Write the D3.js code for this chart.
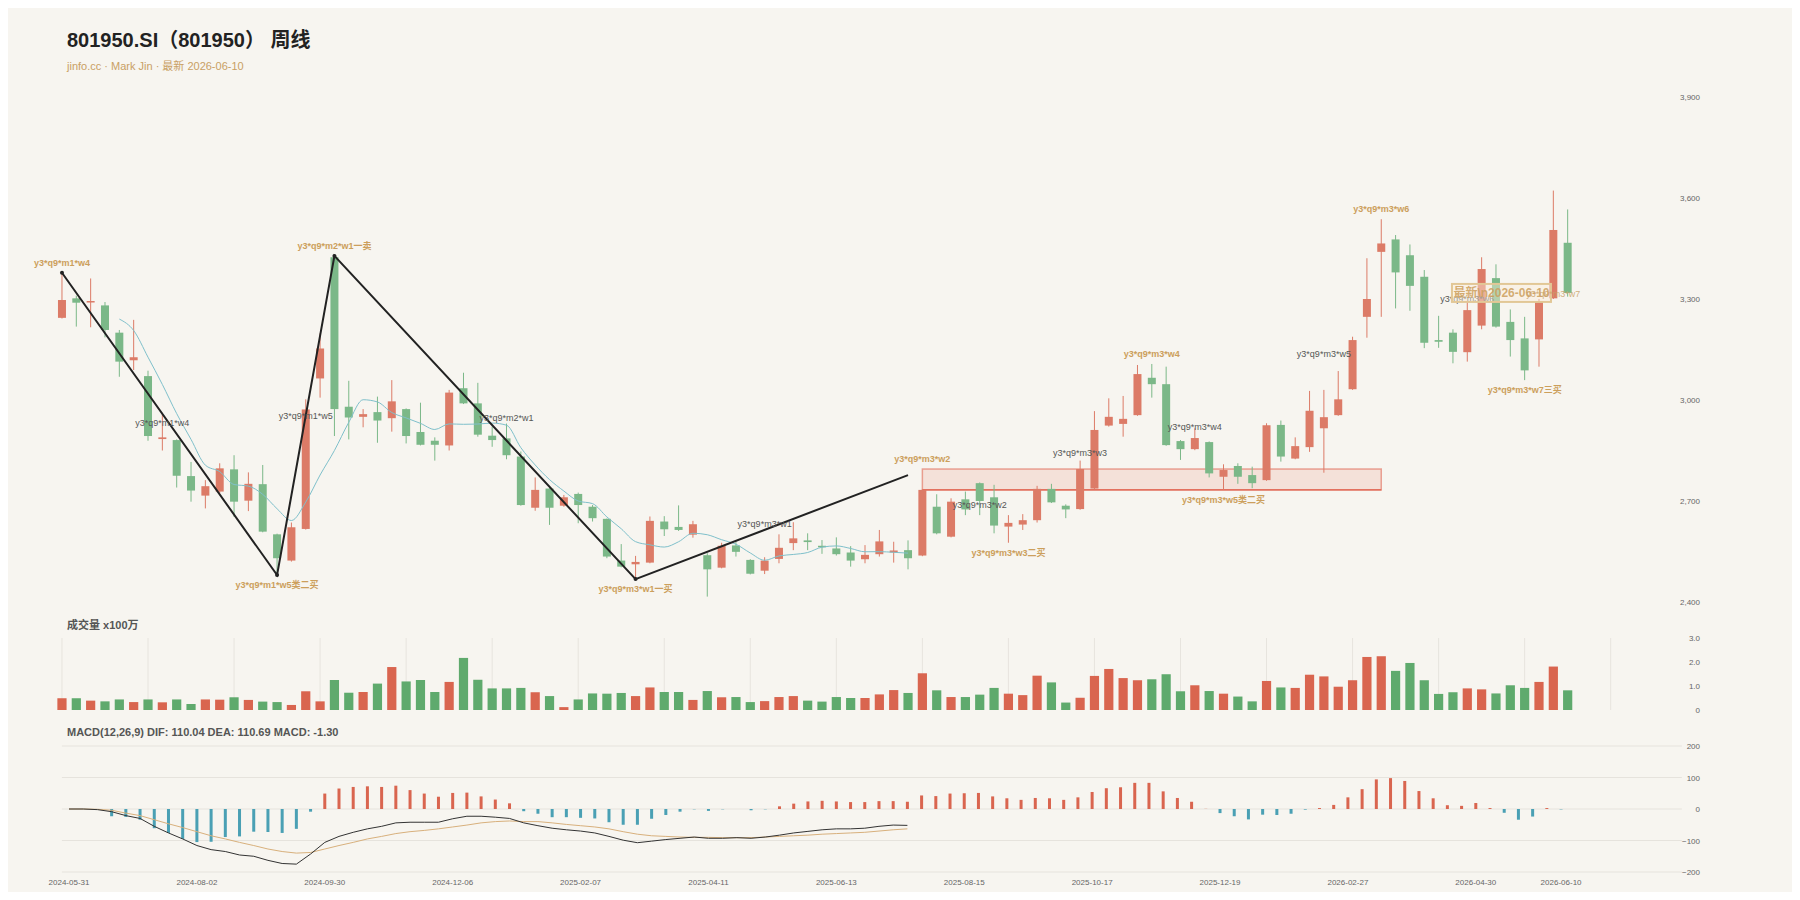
<!DOCTYPE html>
<html><head><meta charset="utf-8">
<script src="https://cdn.jsdelivr.net/npm/d3@7"></script>
<style>
html,body{margin:0;padding:0;background:#fff;}
svg{display:block;font-family:"Liberation Sans",Arial,"Noto Sans CJK SC",sans-serif;}
</style></head><body>
<svg id="c" width="1800" height="900"></svg>
<script>
// ---------- data ----------
const openP  = [3244,3302,3290,3281,3200,3118,3071,2884,2881,2774,2716,2728,2794,2701,2750,2601,2523,2617,3064,3424,
                2980,2950,2964,2946,2973,2905,2879,2865,3035,2990,2894,2886,2832,2680,2737,2686,2721,2683,2647,2523,
                2512,2517,2639,2623,2600,2539,2502,2568,2525,2493,2528,2575,2583,2567,2559,2547,2527,2542,2547,2554,
                2538,2683,2594,2705,2753,2711,2624,2630,2643,2736,2686,2676,2737,2924,2929,2955,3066,3047,2878,2854,
                2875,2772,2804,2777,2762,2926,2826,2860,2916,2955,3032,3247,3440,3477,3430,3366,3178,3200,3142,3221,
                3362,3232,3183,3180,3302,3467];
const highP  = [3378,3310,3361,3291,3208,3238,3087,2962,2883,2816,2762,2812,2836,2785,2807,2603,2636,3002,3198,3428,
                3057,2973,3010,3059,2975,2992,2889,3030,3081,3051,2921,2930,2847,2770,2740,2718,2725,2688,2648,2572,
                2537,2654,2655,2687,2641,2545,2576,2580,2527,2533,2601,2637,2604,2584,2592,2566,2569,2614,2579,2583,
                2735,2720,2708,2728,2755,2748,2658,2661,2745,2751,2690,2820,2967,3005,3012,3104,3107,3099,2881,2916,
                2877,2809,2812,2802,2931,2939,2889,3027,3030,3086,3188,3421,3537,3490,3462,3386,3250,3210,3292,3424,
                3403,3269,3247,3300,3622,3566];
const lowP   = [3242,3218,3216,3186,3069,3089,2879,2850,2740,2698,2678,2723,2653,2670,2607,2480,2520,2615,3007,2893,
                2883,2919,2873,2906,2871,2865,2820,2850,2988,2891,2861,2824,2686,2671,2629,2683,2634,2639,2530,2503,
                2468,2515,2596,2611,2591,2416,2500,2535,2482,2483,2515,2554,2554,2543,2538,2505,2515,2535,2517,2497,
                2536,2601,2592,2658,2658,2604,2576,2614,2636,2694,2649,2674,2735,2921,2891,2953,3007,2864,2822,2851,
                2770,2733,2751,2738,2760,2817,2824,2846,2784,2953,3030,3185,3247,3272,3265,3154,3155,3109,3114,3210,
                3215,3129,3059,3099,3300,3307];
const closeP = [3297,3289,3294,3208,3114,3127,2893,2889,2775,2731,2744,2797,2698,2751,2609,2530,2622,2972,3153,2973,
                2948,2958,2939,2996,2893,2867,2867,3022,2990,2897,2881,2836,2688,2733,2680,2711,2688,2649,2535,2505,
                2519,2641,2616,2614,2631,2497,2567,2549,2484,2523,2561,2589,2578,2563,2542,2523,2540,2580,2553,2530,
                2733,2604,2698,2675,2700,2627,2635,2643,2736,2696,2675,2795,2911,2950,2944,3077,3047,2866,2854,2887,
                2782,2792,2772,2753,2925,2832,2863,2968,2949,3002,3178,3300,3465,3379,3339,3170,3173,3143,3267,3389,
                3218,3178,3088,3292,3505,3318];
const volume = [0.49,0.49,0.39,0.36,0.44,0.33,0.44,0.32,0.44,0.25,0.44,0.43,0.53,0.42,0.35,0.33,0.21,0.78,0.36,1.25,
                0.72,0.75,1.10,1.79,1.19,1.25,0.75,1.17,2.17,1.26,0.90,0.90,0.92,0.74,0.58,0.12,0.44,0.69,0.68,0.71,
                0.58,0.94,0.75,0.75,0.42,0.79,0.53,0.54,0.33,0.37,0.54,0.58,0.39,0.35,0.54,0.50,0.50,0.65,0.83,0.71,
                1.53,0.82,0.54,0.54,0.64,0.92,0.68,0.62,1.43,1.15,0.31,0.51,1.42,1.71,1.33,1.24,1.28,1.49,0.78,1.03,
                0.79,0.68,0.56,0.36,1.21,0.94,0.92,1.47,1.40,0.97,1.24,2.21,2.24,1.63,1.96,1.24,0.67,0.74,0.90,0.86,
                0.69,1.03,0.92,1.17,1.81,0.82];
const macdHist = [0,0,-1,-23,-25,-34,-61,-76,-95,-105,-104,-89,-87,-72,-73,-76,-63,-8.5,49,65,
                  70,72,70,74,60,49,39,51,52,40,30,18,-7,-15,-26,-26,-28,-30,-42,-50,
                  -50,-31,-19,-8.5,-1,-6,-1,0,-4,-1,8.5,17,24,26,24,22,22,25,25,23,
                  43,41,49,50,51,40,34,29,35,34,29,37,54,66,69,83,83,56,35,23,
                  0.5,-13,-23,-33,-18,-19,-15,-2,3,13,37,63,94,98,89,57,34,12,10,19,
                  3,-12,-34,-24,3,-1.3];
const difLine = [0,0,-2,-8.5,-21,-30,-55,-76,-95,-116,-129,-135,-146,-150,-163,-173,-175,-143,-106,-87,
                 -74,-63,-55,-44,-42,-42,-42,-31,-23,-23,-26,-30,-44,-53,-61,-66,-70,-76,-87,-99,
                 -107,-102,-97,-93,-89,-93,-93,-91,-93,-89,-83,-76,-71,-66,-63,-63,-61,-55,-51,-52];
const deaLine = [0,0,-1,-4,-13,-21,-34,-47,-59,-72,-85,-95,-106,-116,-127,-135,-140,-138,-127,-116,
                 -106,-95,-87,-78,-72,-68,-63,-57,-51,-44,-40,-38,-40,-40,-44,-49,-53,-57,-63,-72,
                 -80,-85,-87,-89,-90,-90,-91,-91,-91,-89,-87,-85,-83,-80,-78,-76,-74,-70,-66,-63];
const xTickIdx = [0,9,18,27,36,45,54,63,72,81,90,99,105];
const xTickLabels = ["2024-05-31","2024-08-02","2024-09-30","2024-12-06","2025-02-07","2025-04-11","2025-06-13",
                     "2025-08-15","2025-10-17","2025-12-19","2026-02-27","2026-04-30","2026-06-10"];
const priceTicks = [2400,2700,3000,3300,3600,3900];
const volTicks = [0,1,2,3];
const macdTicks = [-200,-100,0,100,200];
// strokes (bi)
const biIdx = [0,15,19,40,59];
const biPrice = [3378,2480,3428,2468,2777];
// zone (zhongshu)
const zoneStart = 60, zoneEnd = 92, zoneTop = 2795, zoneBottom = 2733;
// gold signal labels
const sigText = ["y3*q9*m1*w4","y3*q9*m1*w5类二买","y3*q9*m2*w1一卖","y3*q9*m3*w1一买","y3*q9*m3*w2",
                 "y3*q9*m3*w3二买","y3*q9*m3*w4","y3*q9*m3*w5类二买","y3*q9*m3*w6","y3*q9*m3*w7三买"];
const sigIdx = [0,15,19,40,60,66,76,81,92,102];
const sigPrice = [3378,2480,3428,2468,2795,2576,3107,2733,3537,3059];
const sigSide = [-1,1,-1,1,-1,1,-1,1,-1,1];
// grey stroke labels
const biLabText = ["y3*q9*m1*w4","y3*q9*m1*w5","y3*q9*m2*w1","y3*q9*m3*w1","y3*q9*m3*w2","y3*q9*m3*w3",
                   "y3*q9*m3*w4","y3*q9*m3*w5","y3*q9*m3*w6"];
const biLabIdx = [7,17,31,49,64,71,79,88,98];
const biLabPrice = [2933,2952,2946,2631,2688,2842,2920,3137,3300];
const lastLabText = "y3*q9*m3*w7", lastLabIdx = 104, lastLabPrice = 3316;

// ---------- drawing ----------
const svg = d3.select('#c');
svg.append('rect').attr('x',8).attr('y',8).attr('width',1784).attr('height',884).attr('fill','#f7f5f0');

const N = 114;
const xP = d3.scaleBand().domain(d3.range(N)).range([54.8, 54.8 + N*14.34]);
const cx = i => xP(i) + xP.bandwidth()/2;
const xM = d3.scaleBand().domain(d3.range(N)).range([61.9, 61.9 + N*14.21]);
const cm = i => xM(i) + xM.bandwidth()/2;
const yP = d3.scaleLinear().domain([2400,3900]).range([602,97]);
const yV = d3.scaleLinear().domain([0,3]).range([710,638]);
const yM = d3.scaleLinear().domain([-200,200]).range([872,746]);

const RED='#dc7b67', GREEN='#7bb888', VRED='#d9654f', VGREEN='#5faa6d', GOLD='#cc9f5c';

// titles
svg.append('text').attr('x',67).attr('y',47).attr('font-size',20).attr('font-weight','bold').attr('fill','#222')
  .text('801950.SI（801950） 周线');
svg.append('text').attr('x',67).attr('y',70).attr('font-size',11).attr('fill','#c9a064')
  .text('jinfo.cc · Mark Jin · 最新 2026-06-10');

// price axis
const ga = svg.append('g').attr('transform','translate(1700,0)')
  .call(d3.axisLeft(yP).tickValues(priceTicks).tickSize(0).tickPadding(0).tickFormat(d3.format(',')));
ga.select('.domain').remove();
ga.selectAll('text').attr('font-size',8).attr('fill','#666').attr('font-family','Liberation Sans, Arial, sans-serif');

// zone
svg.append('rect').attr('x',cx(zoneStart)).attr('y',yP(zoneTop))
  .attr('width',cx(zoneEnd)-cx(zoneStart)).attr('height',yP(zoneBottom)-yP(zoneTop))
  .attr('fill','rgba(232,140,115,0.18)').attr('stroke','rgba(222,95,75,0.55)').attr('stroke-width',1.5);
svg.append('line').attr('x1',cx(zoneStart)).attr('x2',cx(zoneEnd)).attr('y1',yP(zoneBottom)).attr('y2',yP(zoneBottom))
  .attr('stroke','#e0614c').attr('stroke-width',1.2);

// candles
const idxs = d3.range(openP.length);
const cg = svg.append('g');
const bw = 8;
idxs.forEach(i=>{
  const up = closeP[i] >= openP[i];
  const col = up ? RED : GREEN;
  cg.append('line').attr('x1',cx(i)).attr('x2',cx(i)).attr('y1',yP(highP[i])).attr('y2',yP(lowP[i]))
    .attr('stroke',col).attr('stroke-width',1);
  const y0 = yP(Math.max(openP[i],closeP[i])), y1 = yP(Math.min(openP[i],closeP[i]));
  cg.append('rect').attr('x',cx(i)-bw/2).attr('y',y0).attr('width',bw).attr('height',Math.max(1.5,y1-y0))
    .attr('fill',col);
});

// MA5 (first 60 weeks shown)
const ma = [];
for (let i=4;i<=59;i++){ ma.push([i, d3.mean(closeP.slice(i-4,i+1))]); }
svg.append('path').attr('d', d3.line().x(d=>cx(d[0])).y(d=>yP(d[1])).curve(d3.curveMonotoneX)(ma))
  .attr('fill','none').attr('stroke','#7fc0cb').attr('stroke-width',1);

// strokes
const biPts = biIdx.map((d,k)=>[d,biPrice[k]]);
svg.append('path').attr('d', d3.line().x(d=>cx(d[0])).y(d=>yP(d[1]))(biPts))
  .attr('fill','none').attr('stroke','#222').attr('stroke-width',2);
svg.selectAll('.bip').data(biPts.slice(0,4)).enter().append('circle')
  .attr('cx',d=>cx(d[0])).attr('cy',d=>yP(d[1])).attr('r',2).attr('fill','#222');

// grey labels
biLabText.forEach((t,k)=>{
  svg.append('text').attr('x',cx(biLabIdx[k])).attr('y',yP(biLabPrice[k])).attr('dy','0.35em')
    .attr('text-anchor','middle').attr('font-size',9).attr('fill','#555').text(t);
});
// signal labels
sigText.forEach((t,k)=>{
  svg.append('text').attr('x',cx(sigIdx[k])).attr('y',yP(sigPrice[k]) + sigSide[k]*10).attr('dy','0.35em')
    .attr('text-anchor','middle').attr('font-size',9).attr('font-weight','bold').attr('fill',GOLD).text(t);
});

// latest box
const lastY = yP(closeP[closeP.length-1]);
const boxR = cx(closeP.length-1) - 16.7, boxW = 99, boxH = 18;
svg.append('rect').attr('x',boxR-boxW).attr('y',lastY-boxH/2).attr('width',boxW).attr('height',boxH)
  .attr('fill','rgba(250,238,218,0.45)').attr('stroke','#e2c796').attr('stroke-width',2);
svg.append('text').attr('x',boxR-boxW/2).attr('y',lastY).attr('dy','0.36em').attr('text-anchor','middle')
  .attr('font-size',12).attr('font-weight','bold').attr('fill',GOLD).attr('fill-opacity',0.85)
  .text('最新\\n2026-06-10');
svg.append('text').attr('x',cx(lastLabIdx)).attr('y',yP(lastLabPrice)).attr('dy','0.35em')
  .attr('text-anchor','middle').attr('font-size',9).attr('fill','#c9a066').attr('fill-opacity',0.85).text(lastLabText);

// ---------- volume ----------
svg.append('text').attr('x',67).attr('y',629).attr('font-size',11).attr('font-weight','bold').attr('fill','#555')
  .text('成交量 x100万');
const vGridIdx = d3.range(0, N, 6).filter(i=>cx(i) < 1660);
svg.selectAll('.vg').data(vGridIdx).enter().append('line')
  .attr('x1',d=>cx(d)).attr('x2',d=>cx(d)).attr('y1',yV(3)).attr('y2',yV(0))
  .attr('stroke','#e7e4de').attr('stroke-width',1);
const vbw = 9.2;
svg.selectAll('.vb').data(idxs).enter().append('rect')
  .attr('x',i=>cx(i)-vbw/2).attr('y',i=>yV(volume[i])).attr('width',vbw).attr('height',i=>yV(0)-yV(volume[i]))
  .attr('fill',i=> closeP[i]>=openP[i] ? VRED : VGREEN);
const gv = svg.append('g').attr('transform','translate(1700,0)')
  .call(d3.axisLeft(yV).tickValues(volTicks).tickSize(0).tickPadding(0).tickFormat(d=> d===0 ? '0' : d3.format('.1f')(d)));
gv.select('.domain').remove();
gv.selectAll('text').attr('font-size',8).attr('fill','#666').attr('font-family','Liberation Sans, Arial, sans-serif');

// ---------- MACD ----------
svg.append('text').attr('x',67).attr('y',736).attr('font-size',11).attr('font-weight','bold').attr('fill','#555')
  .text('MACD(12,26,9) DIF: 110.04 DEA: 110.69 MACD: -1.30');
svg.selectAll('.mg').data(macdTicks).enter().append('line')
  .attr('x1',xM.range()[0]).attr('x2',xM.range()[1]).attr('y1',d=>yM(d)).attr('y2',d=>yM(d))
  .attr('stroke','#e6e3dd').attr('stroke-width',1);
const mbw = 3;
svg.selectAll('.mb').data(idxs).enter().append('rect')
  .attr('x',i=>cm(i)-mbw/2).attr('y',i=>Math.min(yM(macdHist[i]),yM(0)))
  .attr('width',mbw).attr('height',i=>Math.abs(yM(macdHist[i])-yM(0)))
  .attr('fill',i=> macdHist[i]>=0 ? VRED : '#4aa0b4');
svg.append('path').attr('d', d3.line().x((d,i)=>cm(i)).y(d=>yM(d))(deaLine))
  .attr('fill','none').attr('stroke','#d8b07c').attr('stroke-width',1);
svg.append('path').attr('d', d3.line().x((d,i)=>cm(i)).y(d=>yM(d))(difLine))
  .attr('fill','none').attr('stroke','#333').attr('stroke-width',1);
const gm = svg.append('g').attr('transform','translate(1700,0)')
  .call(d3.axisLeft(yM).tickValues(macdTicks).tickSize(0).tickPadding(0));
gm.select('.domain').remove();
gm.selectAll('text').attr('font-size',8).attr('fill','#666').attr('font-family','Liberation Sans, Arial, sans-serif');

// x axis
const gx = svg.append('g').attr('transform','translate(0,879)')
  .call(d3.axisBottom(xM).tickValues(xTickIdx).tickSize(0).tickPadding(0)
        .tickFormat(d=> xTickLabels[xTickIdx.indexOf(d)]));
gx.select('.domain').remove();
gx.selectAll('text').attr('font-size',8).attr('fill','#666').attr('font-family','Liberation Sans, Arial, sans-serif');
</script>
</body></html>
